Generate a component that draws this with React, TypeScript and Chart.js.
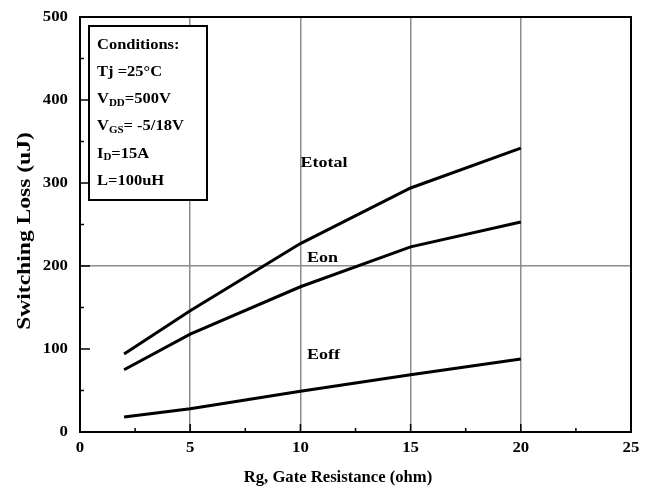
import React, { useEffect, useRef } from 'react';
import { Chart, registerables } from 'chart.js';

Chart.register(...registerables);

// ---- data ----
const rgValues = [2, 5, 10, 15, 20];
const eTotal = [94, 146, 227, 294, 342];
const eOn = [75, 118, 175, 223, 253];
const eOff = [18, 28, 49, 69, 88];
const seriesNames = ['Etotal', 'Eon', 'Eoff'];
const xTickValues = [0, 5, 10, 15, 20, 25];
const yTickValues = [0, 100, 200, 300, 400, 500];
const xTitle = 'Rg, Gate Resistance (ohm)';
const yTitle = 'Switching Loss (uJ)';
type Seg = { t: string; sub?: boolean };
const conditionLines: Seg[][] = [
  [{ t: 'Conditions:' }],
  [{ t: 'Tj =25°C' }],
  [{ t: 'V' }, { t: 'DD', sub: true }, { t: '=500V' }],
  [{ t: 'V' }, { t: 'GS', sub: true }, { t: '= -5/18V' }],
  [{ t: 'I' }, { t: 'D', sub: true }, { t: '=15A' }],
  [{ t: 'L=100uH' }],
];
// label anchor (data coords) for each series name
const labelAnchorX = [10.0, 10.3, 10.3];
const labelAnchorY = [324, 210, 93];

const FONT = '"Liberation Serif", "DejaVu Serif", serif';

function stretchText(
  ctx: CanvasRenderingContext2D,
  text: string,
  x: number,
  y: number,
  size: number,
  sx: number,
  align: CanvasTextAlign,
) {
  ctx.save();
  ctx.translate(x, y);
  ctx.scale(sx, 1);
  ctx.font = `bold ${size}px ${FONT}`;
  ctx.textAlign = align;
  ctx.textBaseline = 'middle';
  ctx.fillText(text, 0, 0);
  ctx.restore();
}

const decorPlugin = {
  id: 'decor',
  afterDraw(chart: any) {
    const { ctx, chartArea: a, scales } = chart;
    const xs = scales.x;
    const ys = scales.y;
    ctx.save();
    // ticks (inward)
    ctx.strokeStyle = '#000';
    ctx.lineWidth = 1.5;
    for (let v = 0; v <= 25; v += 2.5) {
      const px = xs.getPixelForValue(v);
      const len = v % 5 === 0 ? 8 : 4;
      ctx.beginPath();
      ctx.moveTo(px, a.bottom);
      ctx.lineTo(px, a.bottom - len);
      ctx.stroke();
    }
    for (let v = 0; v <= 500; v += 50) {
      const py = ys.getPixelForValue(v);
      const len = v % 100 === 0 ? 10 : 4;
      ctx.beginPath();
      ctx.moveTo(a.left, py);
      ctx.lineTo(a.left + len, py);
      ctx.stroke();
    }
    // border
    ctx.lineWidth = 2;
    ctx.strokeRect(a.left, a.top, a.right - a.left, a.bottom - a.top);

    ctx.fillStyle = '#000';
    // tick labels
    xTickValues.forEach((v) => {
      stretchText(ctx, String(v), xs.getPixelForValue(v), a.bottom + 16, 15, 1.12, 'center');
    });
    yTickValues.forEach((v) => {
      stretchText(ctx, String(v), a.left - 12, ys.getPixelForValue(v), 15, 1.12, 'right');
    });

    // series labels
    seriesNames.forEach((n, i) => {
      stretchText(
        ctx,
        n,
        xs.getPixelForValue(labelAnchorX[i]),
        ys.getPixelForValue(labelAnchorY[i]),
        15,
        1.2,
        'left',
      );
    });

    // conditions box
    const bx = a.left + 9;
    const by = a.top + 9;
    const bw = 118;
    const bh = 174;
    ctx.fillStyle = '#fff';
    ctx.fillRect(bx, by, bw, bh);
    ctx.strokeStyle = '#000';
    ctx.lineWidth = 2;
    ctx.strokeRect(bx, by, bw, bh);
    ctx.fillStyle = '#000';
    conditionLines.forEach((line, i) => {
      const y = by + 19 + i * 27.2;
      ctx.save();
      ctx.translate(bx + 8, y);
      ctx.scale(1.1, 1);
      ctx.textAlign = 'left';
      ctx.textBaseline = 'middle';
      let x = 0;
      line.forEach((seg) => {
        if (seg.sub) {
          ctx.font = `bold 10px ${FONT}`;
          ctx.fillText(seg.t, x, 4);
        } else {
          ctx.font = `bold 15px ${FONT}`;
          ctx.fillText(seg.t, x, 0);
        }
        x += ctx.measureText(seg.t).width;
      });
      ctx.restore();
    });

    // axis titles
    stretchText(ctx, xTitle, 338, 478, 16, 1.04, 'center');
    ctx.save();
    ctx.translate(25, 231);
    ctx.rotate(-Math.PI / 2);
    stretchText(ctx, yTitle, 0, 0, 19, 1.24, 'center');
    ctx.restore();
    ctx.restore();
  },
};

export default function App() {
  const ref = useRef<HTMLCanvasElement>(null);
  useEffect(() => {
    document.body.style.margin = '0';
    const mk = (vals: number[]) => rgValues.map((x, i) => ({ x, y: vals[i] }));
    const lineStyle = {
      borderColor: '#000',
      borderWidth: 3,
      pointRadius: 0,
      fill: false,
      tension: 0,
    };
    const chart = new Chart(ref.current as HTMLCanvasElement, {
      type: 'line',
      data: {
        datasets: [
          { label: seriesNames[0], data: mk(eTotal), ...lineStyle },
          { label: seriesNames[1], data: mk(eOn), ...lineStyle },
          { label: seriesNames[2], data: mk(eOff), ...lineStyle },
        ],
      },
      options: {
        animation: false,
        responsive: false,
        maintainAspectRatio: false,
        layout: { padding: { top: 17, right: 26, left: 0, bottom: 0 } },
        plugins: { legend: { display: false }, tooltip: { enabled: false } },
        scales: {
          x: {
            type: 'linear',
            min: 0,
            max: 25,
            afterBuildTicks: (s: any) => {
              s.ticks = xTickValues.map((v) => ({ value: v }));
            },
            afterFit: (s: any) => {
              s.height = 64;
            },
            ticks: { display: false },
            grid: {
              drawTicks: false,
              lineWidth: 1.5,
              color: (c: any) =>
                c.tick && [5, 10, 15, 20].includes(c.tick.value) ? '#8c8c8c' : 'rgba(0,0,0,0)',
            },
            border: { display: false },
          },
          y: {
            type: 'linear',
            min: 0,
            max: 500,
            afterBuildTicks: (s: any) => {
              s.ticks = yTickValues.map((v) => ({ value: v }));
            },
            afterFit: (s: any) => {
              s.width = 80;
            },
            ticks: { display: false },
            grid: {
              drawTicks: false,
              lineWidth: 1.5,
              color: (c: any) => (c.tick && c.tick.value === 200 ? '#8c8c8c' : 'rgba(0,0,0,0)'),
            },
            border: { display: false },
          },
        },
      },
      plugins: [decorPlugin],
    });
    return () => chart.destroy();
  }, []);
  return (
    <div style={{ width: 657, height: 496, background: '#fff' }}>
      <canvas ref={ref} width={657} height={496} style={{ display: 'block' }} />
    </div>
  );
}
